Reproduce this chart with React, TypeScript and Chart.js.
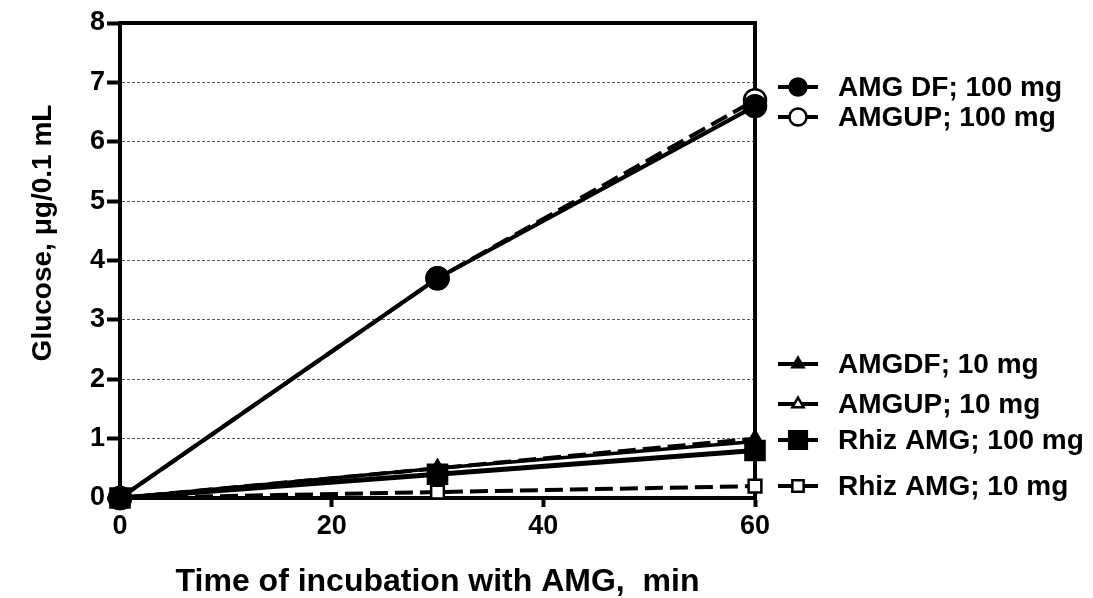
import React, { useEffect, useRef } from 'react';
import { Chart, registerables } from 'chart.js';

Chart.register(...registerables);

// ---- data ----
const timePoints = [0, 30, 60];
const amgDf100 = [0, 3.7, 6.6];
const amgUp100 = [0, 3.7, 6.7];
const amgDf10 = [0, 0.5, 0.95];
const amgUp10 = [0, 0.5, 1.0];
const rhiz100 = [0, 0.4, 0.8];
const rhiz10 = [0, 0.1, 0.2];
const seriesLabels = [
  'AMG DF; 100 mg',
  'AMGUP; 100 mg',
  'AMGDF; 10 mg',
  'AMGUP; 10 mg',
  'Rhiz AMG; 100 mg',
  'Rhiz AMG; 10 mg',
];
const xTickValues = [0, 20, 40, 60];
const yTickValues = [0, 1, 2, 3, 4, 5, 6, 7, 8];
const xTitle = 'Time of incubation with AMG,  min';
const yTitle = 'Glucose, \u03BCg/0.1 mL';

// ---- layout / style ----
const W = 1093;
const H = 598;
const FONT = '"Liberation Sans", Arial, sans-serif';
const legendRowsY = [87, 117, 364, 404, 440, 486];
const DASH = [18, 7];

type Style = {
  shape: 'circle' | 'triangle' | 'rect';
  filled: boolean;
  radius: number;
  legendRadius: number;
  lineWidth: number;
  dash: number[];
};

const styles: Style[] = [
  { shape: 'circle', filled: true, radius: 11, legendRadius: 8.5, lineWidth: 4, dash: [] },
  { shape: 'circle', filled: false, radius: 11, legendRadius: 8.5, lineWidth: 4, dash: DASH },
  { shape: 'triangle', filled: true, radius: 8, legendRadius: 6.5, lineWidth: 3.5, dash: [] },
  { shape: 'triangle', filled: false, radius: 8, legendRadius: 6.5, lineWidth: 4, dash: DASH },
  { shape: 'rect', filled: true, radius: 13.5, legendRadius: 12.5, lineWidth: 5, dash: [] },
  { shape: 'rect', filled: false, radius: 9, legendRadius: 8, lineWidth: 4, dash: DASH },
];

const seriesValues = [amgDf100, amgUp100, amgDf10, amgUp10, rhiz100, rhiz10];

function drawMarker(ctx: CanvasRenderingContext2D, s: Style, x: number, y: number, r: number) {
  ctx.save();
  ctx.setLineDash([]);
  ctx.lineWidth = 2.5;
  ctx.strokeStyle = '#000';
  ctx.fillStyle = s.filled ? '#000' : '#fff';
  ctx.beginPath();
  if (s.shape === 'circle') {
    ctx.arc(x, y, r, 0, Math.PI * 2);
  } else if (s.shape === 'triangle') {
    const h = r * 1.5;
    const half = h / Math.sqrt(3);
    ctx.moveTo(x, y - (h * 2) / 3);
    ctx.lineTo(x + half, y + h / 3);
    ctx.lineTo(x - half, y + h / 3);
    ctx.closePath();
  } else {
    const sz = r * Math.SQRT1_2;
    ctx.rect(x - sz, y - sz, 2 * sz, 2 * sz);
  }
  ctx.fill();
  ctx.stroke();
  ctx.restore();
}

const framePlugin = {
  id: 'frame',
  beforeDatasetsDraw(chart: any) {
    const { ctx, chartArea } = chart;
    ctx.save();
    ctx.strokeStyle = '#000';
    ctx.lineWidth = 4;
    ctx.lineCap = 'square';
    ctx.setLineDash([]);
    ctx.beginPath();
    ctx.moveTo(chartArea.left, chartArea.top);
    ctx.lineTo(chartArea.right, chartArea.top);
    ctx.lineTo(chartArea.right, chartArea.bottom);
    ctx.stroke();
    ctx.restore();
  },
  afterDraw(chart: any) {
    const { ctx, chartArea } = chart;
    // y axis title
    ctx.save();
    ctx.fillStyle = '#000';
    ctx.font = `bold 28px ${FONT}`;
    ctx.textAlign = 'center';
    ctx.textBaseline = 'middle';
    ctx.translate(chartArea.left - 77, 233);
    ctx.rotate(-Math.PI / 2);
    ctx.fillText(yTitle, 0, 0);
    ctx.restore();

    // side legend
    const lx0 = chartArea.right + 23;
    const lx1 = chartArea.right + 63;
    const tx = chartArea.right + 83;
    chart.data.datasets.forEach((ds: any, i: number) => {
      const s = styles[i];
      const y = legendRowsY[i];
      ctx.save();
      ctx.strokeStyle = '#000';
      ctx.lineWidth = 4;
      ctx.setLineDash([]);
      ctx.beginPath();
      ctx.moveTo(lx0, y);
      ctx.lineTo(lx1, y);
      ctx.stroke();
      ctx.restore();
      drawMarker(ctx, s, (lx0 + lx1) / 2, y, s.legendRadius);
      ctx.save();
      ctx.fillStyle = '#000';
      ctx.font = `bold 28px ${FONT}`;
      ctx.textAlign = 'left';
      ctx.textBaseline = 'middle';
      ctx.fillText(ds.label, tx, y + 1);
      ctx.restore();
    });
  },
};

export default function App() {
  const ref = useRef<HTMLCanvasElement | null>(null);

  useEffect(() => {
    if (!ref.current) return;
    const datasets = seriesValues.map((vals, i) => {
      const s = styles[i];
      return {
        label: seriesLabels[i],
        data: timePoints.map((t, k) => ({ x: t, y: vals[k] })),
        borderColor: '#000',
        backgroundColor: s.filled ? '#000' : '#fff',
        borderWidth: s.lineWidth,
        borderDash: s.dash,
        pointStyle: s.shape,
        pointRadius: s.radius,
        pointHoverRadius: s.radius,
        pointBorderWidth: 2.5,
        pointBorderColor: '#000',
        pointBackgroundColor: s.filled ? '#000' : '#fff',
        tension: 0,
        fill: false,
        clip: false,
      };
    });

    const chart = new Chart(ref.current, {
      type: 'line',
      data: { datasets },
      plugins: [framePlugin],
      options: {
        responsive: false,
        animation: false,
        devicePixelRatio: 1,
        layout: { padding: { left: 0, right: W - 755, top: 23, bottom: 0 } },
        plugins: {
          legend: { display: false },
          tooltip: { enabled: false },
          title: { display: false },
        },
        scales: {
          x: {
            type: 'linear',
            min: 0,
            max: 60,
            afterBuildTicks: (s: any) => {
              s.ticks = xTickValues.map((v) => ({ value: v }));
            },
            afterFit: (s: any) => {
              s.height = H - 498;
            },
            ticks: {
              color: '#000',
              font: { family: FONT, size: 27, weight: 'bold' },
              padding: 3,
              maxRotation: 0,
            },
            grid: {
              drawOnChartArea: false,
              drawTicks: true,
              tickLength: 9,
              tickWidth: 4,
              tickColor: '#000',
              tickBorderDash: [],
            },
            border: { display: true, color: '#000', width: 4 },
            title: {
              display: true,
              text: xTitle,
              color: '#000',
              font: { family: FONT, size: 32, weight: 'bold', lineHeight: 1 },
              padding: { top: 0, bottom: 0 },
            },
          },
          y: {
            type: 'linear',
            min: 0,
            max: 8,
            afterBuildTicks: (s: any) => {
              s.ticks = yTickValues.map((v) => ({ value: v }));
            },
            afterFit: (s: any) => {
              s.width = 120;
            },
            ticks: {
              color: '#000',
              font: { family: FONT, size: 27, weight: 'bold' },
              padding: 2,
            },
            grid: {
              drawOnChartArea: true,
              drawTicks: true,
              tickLength: 13,
              tickWidth: 4,
              tickColor: '#000',
              tickBorderDash: [],
              lineWidth: 1,
              color: (c: any) =>
                c.tick && (c.tick.value === 0 || c.tick.value === 8) ? 'rgba(0,0,0,0)' : '#555',
            },
            border: { display: true, color: '#000', width: 4, dash: [3, 2] },
          },
        },
      } as any,
    });
    return () => chart.destroy();
  }, []);

  return (
    <div style={{ position: 'absolute', left: 0, top: 0, width: W, height: H, background: '#fff' }}>
      <canvas ref={ref} width={W} height={H} style={{ width: W, height: H, display: 'block' }} />
    </div>
  );
}
